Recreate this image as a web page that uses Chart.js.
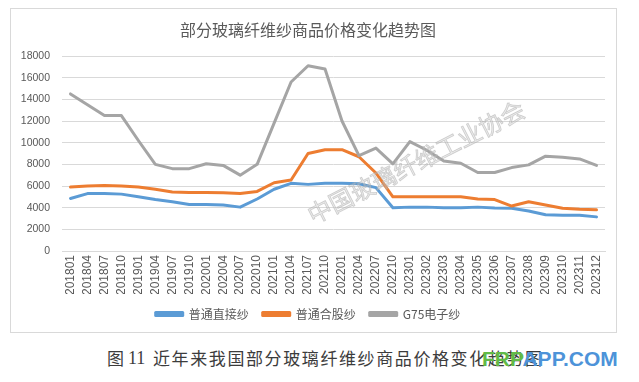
<!DOCTYPE html>
<html>
<head>
<meta charset="utf-8">
<script src="https://cdn.jsdelivr.net/npm/chart.js@4.4.1/dist/chart.umd.min.js"></script>
<style>
  html, body { margin: 0; padding: 0; background: #ffffff; }
  body { width: 639px; height: 382px; position: relative; overflow: hidden; font-family: "Noto Sans CJK SC", sans-serif; }
  #frame { position: absolute; left: 10px; top: 8px; width: 607px; height: 325px; border: 1px solid #d9d9d9; box-sizing: border-box; }
  #wrap { position: absolute; left: 0; top: 0; width: 605px; height: 323px; }
  .cap { position: absolute; top: 348px; font-size: 17px; line-height: 20px; color: #3c3c3c; white-space: nowrap; }
  #wm { position: absolute; left: 482px; top: 347px; font-family: "Liberation Sans", Arial, sans-serif; font-size: 21px; line-height: 24px; font-weight: bold; white-space: nowrap; }
</style>
</head>
<body>
<div id="frame"><div id="wrap"><canvas id="c"></canvas></div></div>
<div class="cap" style="left:107px;">图</div>
<div class="cap" style="left:128px; font-family:'Liberation Serif',serif; font-size:18px;">11</div>
<div class="cap" style="left:153px; letter-spacing:1.6px;">近年来我国部分玻璃纤维纱商品价格变化趋势图</div>
<div id="wm"><span style="color:#62bb47;">FRP</span><span style="color:#4d93d9;">APP.COM</span></div>
<script>
const categories = ["201801","201804","201807","201810","201901","201904","201907","201910",
  "202001","202004","202007","202010","202101","202104","202107","202110",
  "202201","202204","202207","202210","202301","202302","202303","202304",
  "202305","202306","202307","202308","202309","202310","202311","202312"];
const seriesNames = ["普通直接纱", "普通合股纱", "G75电子纱"];
const directYarn = [4850,5300,5300,5250,5000,4750,4550,4300,
  4300,4250,4050,4800,5700,6250,6150,6250,
  6250,6200,5850,4000,4050,4050,4000,4000,
  4050,3980,3950,3700,3350,3300,3300,3150];
const pliedYarn = [5900,6000,6050,6000,5900,5700,5450,5400,
  5400,5380,5300,5500,6300,6550,9000,9350,
  9350,8700,7200,5000,5000,5000,5000,5000,
  4800,4750,4150,4550,4250,3950,3850,3800];
const g75Yarn = [14500,13500,12500,12500,10200,8000,7600,7600,
  8050,7900,7000,8000,11800,15600,17100,16800,
  12000,8800,9500,8050,10100,9300,8300,8100,
  7250,7250,7700,7950,8750,8650,8500,7900];
const yTicks = [0,2000,4000,6000,8000,10000,12000,14000,16000,18000];
const chartTitle = "部分玻璃纤维纱商品价格变化趋势图";
const watermark = "中国玻璃纤维工业协会";

const watermarkPlugin = {
  id: 'wmText',
  afterDraw(chart) {
    const ctx = chart.ctx;
    ctx.save();
    ctx.translate(405, 153);
    ctx.rotate(-27 * Math.PI / 180);
    ctx.font = '24px "Noto Sans CJK SC"';
    ctx.textAlign = 'center';
    ctx.textBaseline = 'middle';
    ctx.fillStyle = 'rgba(205,205,205,0.4)';
    ctx.strokeStyle = 'rgba(165,165,165,0.5)';
    ctx.lineWidth = 0.8;
    ctx.fillText(watermark, 0, 0);
    ctx.strokeText(watermark, 0, 0);
    ctx.restore();
  }
};

const colors = ['#5B9BD5', '#ED7D31', '#A5A5A5'];
const values = [directYarn, pliedYarn, g75Yarn];

new Chart(document.getElementById('c'), {
  type: 'line',
  data: {
    labels: categories,
    datasets: seriesNames.map((n, i) => ({
      label: n,
      data: values[i],
      borderColor: colors[i],
      backgroundColor: colors[i],
      borderWidth: 3,
      pointRadius: 0,
      tension: 0,
      borderJoinStyle: 'round',
      borderCapStyle: 'round',
      order: 3 - i
    }))
  },
  options: {
    responsive: true,
    maintainAspectRatio: false,
    animation: false,
    layout: { padding: { left: 0, right: 11, top: 0, bottom: 2 } },
    plugins: {
      title: {
        display: true,
        text: chartTitle,
        color: '#5a5a5a',
        font: { family: '"Noto Sans CJK SC"', size: 16, weight: 'normal', lineHeight: 1.2 },
        padding: { top: 11.4, bottom: 16.4 }
      },
      legend: {
        position: 'bottom',
        labels: {
          boxWidth: 27,
          boxHeight: 3,
          padding: 14,
          color: '#595959',
          font: { family: '"Noto Sans CJK SC"', size: 12 },
          sort: (a, b) => a.datasetIndex - b.datasetIndex
        }
      },
      tooltip: { enabled: false }
    },
    scales: {
      x: {
        offset: true,
        grid: { display: false, drawTicks: false },
        border: { display: true, color: '#d9d9d9', width: 1 },
        ticks: {
          autoSkip: false,
          minRotation: 90,
          maxRotation: 90,
          padding: 4,
          color: '#595959',
          font: { family: '"Liberation Sans"', size: 12 }
        },
        afterFit(s) { s.height = 43; }
      },
      y: {
        min: 0,
        max: 18000,
        afterBuildTicks(s) { s.ticks = yTicks.map(v => ({ value: v })); },
        grid: { color: '#d9d9d9', drawTicks: false },
        border: { display: false },
        ticks: {
          padding: 12,
          color: '#595959',
          font: { family: '"Liberation Sans"', size: 10.5 },
          callback: (v) => String(v)
        },
        afterFit(s) { s.width = 51; }
      }
    }
  },
  plugins: [watermarkPlugin]
});
</script>
</body>
</html>
